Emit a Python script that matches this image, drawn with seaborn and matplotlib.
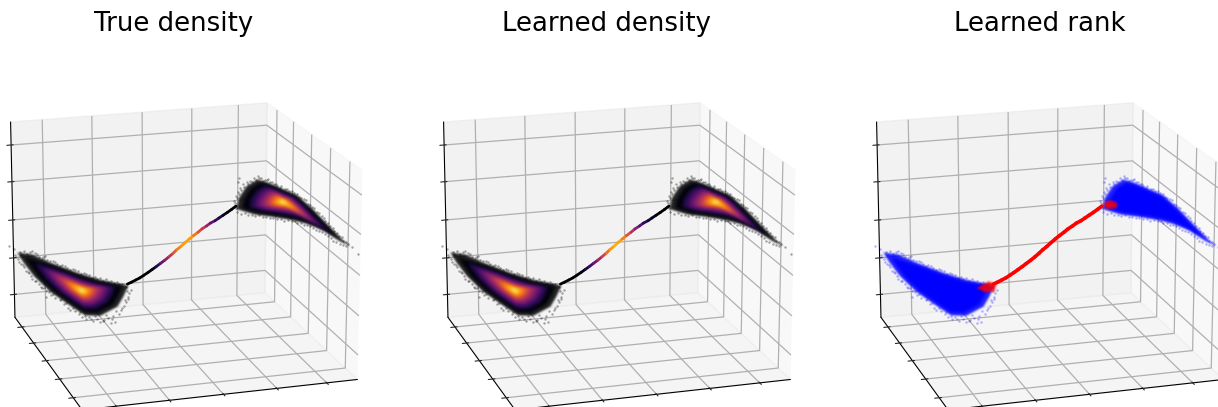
import matplotlib
matplotlib.use("Agg")
import numpy as np
import matplotlib.pyplot as plt
import seaborn as sns
from mpl_toolkits.mplot3d.art3d import Poly3DCollection, Line3DCollection

sns.set_style("white")
plt.rcParams['font.family'] = ['DejaVu Sans']
plt.rcParams['text.color'] = 'black'
plt.rcParams['axes.edgecolor'] = 'black'
plt.rcParams['grid.color'] = '#b0b0b0'
plt.rcParams['grid.linewidth'] = 0.9
plt.rcParams['axes.linewidth'] = 0.8

titles = ['True density', 'Learned density', 'Learned rank']
grid_ticks = [12, 31, 50.5, 70, 88.5]

# thin curve between the two blobs
curve_x = [34.6, 35.8, 37.1, 38.3, 39.5, 40.7, 41.9, 43.1, 44.3, 45.6, 46.8, 48, 49.1, 50.3,
           51.5, 52.7, 53.9, 55.2, 56.3, 57.6, 58.7, 60, 61.1, 62.3, 63.5, 64.7, 65.9]
curve_z = [27.4, 28.7, 30.2, 31.6, 33.3, 35, 36.8, 38.6, 40.5, 42.5, 44.5, 46.6, 48.7, 50.7,
           52.9, 55, 57, 59, 60.9, 62.7, 64.4, 65.9, 67.5, 69.2, 70.9, 72.7, 74.6]
true_d = [0, 0, 0, 0, 0, 0, .05, .15, .28, .38, .5, .62, .72, .78, .8, .78, .7, .6, .5, .4,
          .28, .18, .1, .05, 0, 0, 0]
learned_d = [0, 0, 0, 0, 0, .03, .1, .2, .3, .42, .55, .68, .78, .82, .8, .72, .6, .48, .36, .25,
             .15, .08, .03, 0, 0, 0, 0]

# density levels of the left blob, outer to inner
levels = [0.02, 0.14, 0.26, 0.36, 0.46, 0.56, 0.65, 0.74, 0.82, 0.9, 0.98]
left_x = [
    [3.5, 12.4, 19.6, 25.7, 33.2, 31.8, 30.3, 25.7, 21.7, 17.7, 12.4, 7.9, 5.2],
    [6.7, 14, 19.8, 24.9, 30.9, 29.8, 28.6, 24.9, 21.6, 18.3, 14, 10.3, 8],
    [9.1, 15.1, 20, 24.2, 29.3, 28.4, 27.3, 24.2, 21.5, 18.7, 15.1, 12.1, 10.1],
    [11, 16.1, 20.1, 23.7, 27.9, 27.2, 26.3, 23.7, 21.3, 19, 16.1, 13.5, 11.9],
    [12.9, 16.9, 20.2, 23.2, 26.6, 26, 25.3, 23.2, 21.2, 19.4, 16.9, 14.9, 13.5],
    [14.4, 17.7, 20.4, 22.8, 25.5, 25, 24.4, 22.8, 21.2, 19.7, 17.7, 16.1, 15],
    [15.7, 18.4, 20.5, 22.3, 24.5, 24.1, 23.7, 22.3, 21.1, 19.9, 18.4, 17.1, 16.3],
    [16.9, 18.9, 20.6, 22, 23.7, 23.4, 23, 22, 21.1, 20.1, 18.9, 17.9, 17.3],
    [18.2, 19.6, 20.7, 21.7, 22.9, 22.7, 22.4, 21.7, 21, 20.4, 19.6, 18.8, 18.4],
    [19.1, 20, 20.8, 21.5, 22.1, 22, 21.9, 21.5, 21, 20.6, 20, 19.6, 19.3],
    [20, 20.5, 20.8, 21.1, 21.6, 21.5, 21.3, 21.1, 20.9, 20.8, 20.5, 20.2, 20.1],
]
left_z = [
    [32.4, 30.3, 27.8, 26.3, 25.9, 20.5, 15.7, 10.2, 9.1, 12.4, 17.1, 23, 28.5],
    [30.2, 28.5, 26.4, 25.2, 24.9, 20.4, 16.5, 12, 11.1, 13.8, 17.7, 22.5, 27],
    [28.5, 27.1, 25.4, 24.3, 24.1, 20.4, 17.1, 13.4, 12.6, 14.9, 18.1, 22.1, 25.8],
    [27.2, 26, 24.5, 23.7, 23.5, 20.4, 17.6, 14.5, 13.9, 15.7, 18.4, 21.8, 24.9],
    [25.9, 24.9, 23.7, 23, 22.9, 20.3, 18.1, 15.5, 15, 16.6, 18.8, 21.5, 24.1],
    [24.8, 24, 23, 22.5, 22.3, 20.3, 18.5, 16.4, 16, 17.3, 19, 21.3, 23.3],
    [23.8, 23.2, 22.4, 22, 21.9, 20.3, 18.9, 17.2, 16.9, 17.9, 19.3, 21, 22.6],
    [23, 22.5, 21.9, 21.6, 21.5, 20.3, 19.2, 17.9, 17.7, 18.4, 19.5, 20.8, 22.1],
    [22.1, 21.8, 21.4, 21.2, 21.1, 20.2, 19.5, 18.6, 18.4, 19, 19.7, 20.6, 21.5],
    [21.5, 21.2, 21, 20.8, 20.8, 20.2, 19.7, 19.2, 19.1, 19.4, 19.9, 20.5, 21],
    [20.8, 20.7, 20.6, 20.5, 20.5, 20.2, 20, 19.7, 19.6, 19.8, 20, 20.3, 20.6],
]
# same levels, right blob
right_x = [
    [67.6, 68.2, 70, 72.7, 75.2, 78.6, 82.3, 86, 89.6, 93.3, 95.1, 89, 85.2, 81.6, 76.5, 72],
    [69.7, 70.1, 71.6, 73.8, 75.9, 78.7, 81.9, 84.9, 87.7, 90.8, 92.3, 87.1, 84.1, 81.1, 77, 73.3],
    [71.2, 71.6, 72.8, 74.6, 76.4, 78.7, 81.4, 84, 86.3, 89, 90.2, 85.9, 83.3, 80.8, 77.3, 74.2],
    [72.5, 72.8, 73.9, 75.4, 76.8, 78.8, 81, 83.2, 85.3, 87.3, 88.4, 84.9, 82.7, 80.5, 77.6, 75],
    [73.7, 73.9, 74.8, 76, 77.2, 78.8, 80.6, 82.5, 84.1, 85.9, 86.7, 83.8, 82.1, 80.2, 77.8, 75.7],
    [74.7, 74.9, 75.6, 76.6, 77.5, 78.8, 80.3, 81.9, 83.2, 84.8, 85.4, 82.9, 81.4, 79.9, 78, 76.3],
    [75.6, 75.7, 76.3, 77.1, 77.8, 78.8, 80, 81.2, 82.4, 83.5, 84.1, 82.1, 80.9, 79.7, 78.2, 76.9],
    [76.3, 76.5, 76.9, 77.5, 78.1, 78.8, 79.7, 80.8, 81.6, 82.6, 83.1, 81.4, 80.5, 79.5, 78.4, 77.3],
    [77.1, 77.2, 77.5, 77.9, 78.3, 78.9, 79.5, 80.2, 80.9, 81.6, 81.9, 80.7, 80, 79.3, 78.5, 77.8],
    [77.7, 77.8, 78, 78.3, 78.5, 78.9, 79.3, 79.7, 80.2, 80.6, 80.9, 80.1, 79.6, 79.2, 78.7, 78.2],
    [78.3, 78.3, 78.4, 78.6, 78.7, 78.9, 79.1, 79.3, 79.5, 79.8, 79.9, 79.5, 79.3, 79, 78.8, 78.5],
]
right_z = [
    [74, 78.8, 84.3, 87.7, 87, 85.3, 83.5, 78.7, 73.3, 67.7, 65.6, 70.4, 72.2, 72.9, 73, 72.9],
    [75.1, 79, 83.5, 86.3, 85.7, 84.3, 82.9, 78.9, 74.5, 69.9, 68.1, 72.1, 73.6, 74.1, 74.3, 74.1],
    [75.9, 79.2, 82.9, 85.2, 84.8, 83.6, 82.4, 79.1, 75.4, 71.5, 70, 73.3, 74.6, 75.1, 75.2, 75.1],
    [76.5, 79.3, 82.4, 84.4, 84, 83, 82, 79.2, 76.2, 72.9, 71.6, 74.4, 75.5, 75.9, 76, 75.9],
    [77.2, 79.4, 82, 83.5, 83.2, 82.4, 81.6, 79.3, 76.8, 74.1, 73, 75.4, 76.3, 76.6, 76.7, 76.6],
    [77.7, 79.5, 81.6, 82.8, 82.6, 81.9, 81.3, 79.4, 77.4, 75.1, 74.3, 76.2, 77, 77.3, 77.3, 77.3],
    [78.2, 79.6, 81.2, 82.2, 82, 81.5, 81, 79.5, 77.9, 76.1, 75.4, 76.9, 77.6, 77.8, 77.9, 77.8],
    [78.6, 79.7, 80.9, 81.7, 81.5, 81.1, 80.7, 79.6, 78.4, 76.9, 76.3, 77.6, 78.1, 78.3, 78.3, 78.3],
    [79, 79.7, 80.6, 81.1, 81, 80.8, 80.5, 79.7, 78.9, 77.7, 77.3, 78.2, 78.7, 78.8, 78.8, 78.8],
    [79.3, 79.8, 80.3, 80.7, 80.6, 80.4, 80.3, 79.8, 79.2, 78.4, 78.1, 78.7, 79.1, 79.2, 79.2, 79.2],
    [79.6, 79.8, 80.1, 80.3, 80.3, 80.2, 80.1, 79.8, 79.6, 79, 78.8, 79.2, 79.5, 79.5, 79.5, 79.5],
]
# loose samples around the rim
spread_x = [0.3, -1.5, 2.2, 3.3, 5, 6.6, 7.9, 9.1, 10.5, 12.1, 13.5, 15, 16.5, 18.2, 19.8, 21.5, 23.1, 24.8, 26.4, 28.1,
            29.7, 31.4, 33, 35.8, 35.2, 34.9, 34.1, 33.6, 32.5, 31.9, 30.3, 28.6, 27.5, 26.4, 25.3, 24.2, 23.1, 22, 20.9, 19.8, 18.7,
            29.5, 30.8, 16.5, 15.4, 14.1, 12.7, 11.3, 9.9, 8.8, 7.7, 6.5, 5.3, 4.4, 3.3, 2.2, 1.3, 0.6, 9.9,
            2, 4.1, 5.7, 7.3, 8.8, 9.9, 11.4, 12.9, 14.3, 15.7, 17.4, 18.9, 20.6, 22.2, 23.9, 25.5, 27.3, 28.8, 30.5,
            32.2, 34.1, 34.5, 34.7, 34, 33, 31.1, 29.9, 28, 27.1, 24.9, 23.7, 21.6, 20.1, 18.2, 17.1, 16.1,
            14.5, 12.1, 10.8, 9.4, 8.3, 6.8, 5.7, 4.6, 3.7, 2.8, 1.8, 0.9,
            65.6, 65.3, 65.9, 66.3, 67, 67.8, 68.8, 69.8, 70.8, 71.8, 72.8, 73.8, 74.8, 75.8, 76.8, 66.7, 66.5,
            78.3, 79.8, 81.3, 82.6, 83.8, 85, 86.2, 87.4, 88.8, 90, 91.2, 92.4, 93.6, 94.9, 96.1, 97.6,
            67.3, 69.3, 71.3, 73.3, 75.3, 77.3, 79.3, 81.3, 82.9, 84.6, 86.3, 87.9, 89.6, 91.2, 92.7, 94.4, 96, 99.4,
            65.8, 65.6, 66.1, 66.7, 67.3, 68.2, 69.3, 70.3, 71.3, 72.3, 73.3, 74.3, 75.3, 76.3, 77.3, 78.1, 79.3, 80.5, 81.9, 83.2,
            84.5, 85.6, 86.8, 88.2, 89.4, 90.4, 91.7, 92.9, 94.1, 95.3, 96.6,
            66.3, 68.3, 70.3, 72.3, 74.3, 76.3, 78.3, 80.3, 82.1, 83.8, 85.5, 87.1, 88.8, 90.3, 92, 93.5, 95.2]
spread_z = [35.5, 36.6, 33, 35.6, 35.2, 35.5, 33.8, 34.1, 33, 33, 31.5, 31.7, 30.5, 30.4, 29.6, 29.5, 28.6, 28.4, 27.9, 27.9,
            27.3, 27.6, 27.2, 25, 23, 21, 18, 16, 13.5, 11.5, 10, 8.5, 7.2, 5.5, 6.8, 5.2, 7, 5.8, 6.3, 7.6, 9,
            6, 6.7, 10, 11.8, 13, 14, 15, 16.5, 18, 19.5, 21, 23, 25, 27, 28.5, 31, 32.7, 13.5,
            34.6, 33.9, 36, 34.8, 33, 34.6, 32.4, 32.4, 30.7, 31, 29.6, 30, 28.4, 28.8, 27.4, 27.6, 27.1, 27, 26.6,
            26.5, 26, 24, 20, 19.3, 14.8, 12.6, 8.2, 9.8, 6.2, 8, 6.2, 7, 8.6, 10.5, 9, 12.2,
            14, 15.6, 16.2, 18, 18.5, 21, 21.5, 24.3, 25.5, 28, 29.5, 31.5,
            74.5, 77, 79.5, 81.5, 83.5, 85.5, 87, 87.5, 89.5, 90.5, 90, 89.3, 89.8, 88.5, 88, 88.2, 86.4,
            87.2, 86.5, 85.5, 84.8, 83.2, 82.2, 80.5, 79, 77, 75, 73, 71, 69, 67.5, 65.5, 63.2,
            71.3, 71.1, 71.2, 71.3, 71.4, 71.3, 71.1, 71.2, 71, 70.5, 70.1, 69, 68.2, 66.7, 65, 64, 63.3, 60.4,
            73.5, 75.8, 78.3, 80.5, 82.5, 84.3, 86.1, 87.1, 88.5, 89.5, 88.7, 89.1, 88.3, 87.7, 87.2, 86.3, 86.3, 85.3, 84.9, 83.4,
            82.5, 80.8, 79.5, 77.7, 75.8, 73.8, 71.8, 69.6, 67.8, 65.8, 64.3,
            72, 71.7, 71.4, 71.8, 71.7, 71.7, 71.5, 71.6, 71.5, 71.2, 70.7, 69.8, 68.8, 67.4, 66, 64.8, 63.6]
# outer outlines of the clouds
outline_left_x = [1.2, 5.8, 11.2, 19.4, 26.4, 34.9, 33.3, 31.6, 26.4, 21.8, 17.3, 11.2, 6.2, 3]
outline_left_z = [34.1, 34.4, 31.7, 28.8, 27.1, 26.7, 20.5, 15.1, 8.8, 7.6, 11.3, 16.7, 23.4, 29.6]
outline_right_x = [66.1, 66.7, 68.8, 71.8, 74.7, 78.6, 82.6, 87, 91, 95.2, 97.3, 94.4, 90.2, 85.9, 82, 76.2, 71.1]
outline_right_z = [73.2, 78.7, 84.9, 88.8, 88, 86, 84, 78.5, 72.2, 66, 63.6, 65.3, 69.1, 71.1, 71.9, 72.1, 71.9]
# red knots where the curve meets the clouds
knot_left_x = [29.7, 33.1, 35.5, 34.9, 31.9]
knot_left_z = [24, 28.3, 27.8, 23.8, 22.5]
knot_right_x = [66.4, 68.2, 70.3, 69.8, 67]
knot_right_z = [76.2, 78.1, 77, 74.5, 73.5]

inferno = sns.color_palette("inferno", as_cmap=True)


def soft_edge(radius):
    # feather a flat polygon so the levels run into each other
    kernel = np.hanning(2 * radius + 3)
    kernel = kernel / kernel.sum()

    def apply(img, dpi):
        pad = radius + 2
        alpha = np.pad(img[..., 3], pad)
        alpha = np.apply_along_axis(np.convolve, 0, alpha, kernel, mode='same')
        alpha = np.apply_along_axis(np.convolve, 1, alpha, kernel, mode='same')
        row, col = np.unravel_index(np.argmax(img[..., 3]), img[..., 3].shape)
        out = np.zeros(alpha.shape + (4,))
        out[..., :3] = img[row, col, :3]
        out[..., 3] = alpha
        return out, -pad, -pad
    return apply


def fill(ax, xs, zs, color, zorder, alpha=1.0, radius=2):
    ys = [100 - v for v in xs]
    poly = Poly3DCollection([list(zip(xs, ys, zs))], facecolor=color, edgecolor='none',
                            alpha=alpha, zorder=zorder)
    poly.set_agg_filter(soft_edge(radius))
    ax.add_collection3d(poly)


def draw_curve(ax, colors, lw):
    pts = list(zip(curve_x, [100 - v for v in curve_x], curve_z))
    segs = [[pts[k], pts[k + 1]] for k in range(len(pts) - 1)]
    ax.add_collection3d(Line3DCollection(segs, colors=colors, linewidths=lw, capstyle='round', zorder=6))


fig = plt.figure(figsize=(12.18, 4.07), dpi=100)
lefts = [-42.5, 390.5, 823.5]
size = 433
for i, left in enumerate(lefts):
    ax = fig.add_axes([left / 1218, (407 - 37 - size) / 407, size / 1218, size / 407], projection='3d')
    ax.view_init(elev=17.5, azim=-107)
    ax.set_box_aspect((4, 4, 3.05))
    ax.set_xlim(0, 100)
    ax.set_ylim(0, 100)
    ax.set_zlim(0, 100)
    ax.set_xticks(grid_ticks)
    ax.set_yticks(grid_ticks)
    ax.set_zticks(grid_ticks)
    ax.set_xticklabels([])
    ax.set_yticklabels([])
    ax.set_zticklabels([])
    ax.computed_zorder = False
    ax.set_title(titles[i], fontsize=18.7, y=1.08)

    spread_y = [100 - v for v in spread_x]
    if i < 2:
        ax.scatter(spread_x, spread_y, spread_z, color='black', alpha=0.35, s=3, linewidths=0,
                   depthshade=False, zorder=2)
        fill(ax, outline_left_x, outline_left_z, 'black', 3, alpha=0.85, radius=1)
        fill(ax, outline_right_x, outline_right_z, 'black', 3, alpha=0.85, radius=1)
        for k, level in enumerate(levels):
            fill(ax, left_x[k], left_z[k], inferno(level), 4 + k * 0.01)
            fill(ax, right_x[k], right_z[k], inferno(level), 4 + k * 0.01)
        dens = true_d if i == 0 else learned_d
        draw_curve(ax, [inferno(d) for d in dens[:-1]], 2.0)
    else:
        ax.scatter(spread_x, spread_y, spread_z, color='blue', alpha=0.3, s=3, linewidths=0,
                   depthshade=False, zorder=2)
        fill(ax, outline_left_x, outline_left_z, 'blue', 3, alpha=0.85, radius=1)
        fill(ax, outline_right_x, outline_right_z, 'blue', 3, alpha=0.85, radius=1)
        fill(ax, left_x[0], left_z[0], 'blue', 4)
        fill(ax, right_x[0], right_z[0], 'blue', 4)
        draw_curve(ax, 'red', 2.6)
        fill(ax, knot_left_x, knot_left_z, 'red', 7, alpha=0.85, radius=1)
        fill(ax, knot_right_x, knot_right_z, 'red', 7, alpha=0.85, radius=1)

fig.savefig('out.png', dpi=100)
